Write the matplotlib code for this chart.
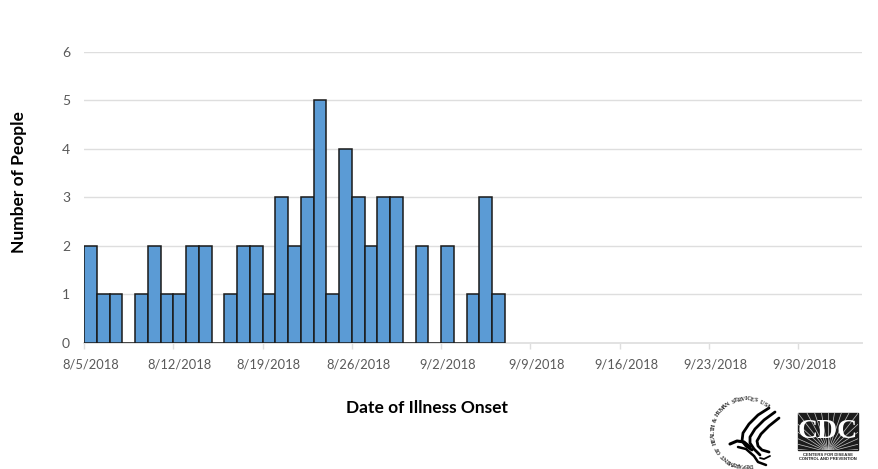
import numpy as np
import matplotlib
matplotlib.use("Agg")
import matplotlib.pyplot as plt
from matplotlib.patches import Rectangle

W, H = 879, 469

case_counts = [2, 1, 1, 0, 1, 2, 1, 1, 2, 2, 0, 1, 2, 2, 1, 3, 2, 3, 5, 1, 4, 3, 2, 3, 3,
               0, 2, 0, 2, 0, 1, 3, 1]
n_days = 61
tick_labels = ["8/5/2018", "8/12/2018", "8/19/2018", "8/26/2018", "9/2/2018",
               "9/9/2018", "9/16/2018", "9/23/2018", "9/30/2018"]
y_ticks = [0, 1, 2, 3, 4, 5, 6]

plt.rcParams["font.family"] = ["Lato", "DejaVu Sans"]

fig = plt.figure(figsize=(W / 100, H / 100), dpi=100)
ax = fig.add_axes([84 / W, 1 - 343 / H, (862 - 84) / W, (343 - 51.5) / H])

ax.bar(np.arange(len(case_counts)), case_counts, width=1.0, color="#5b9bd5",
       edgecolor="#1a1a1a", linewidth=1.1, zorder=3)

ax.set_xlim(-0.5, n_days - 0.5)
ax.set_ylim(0, 6)
ax.set_yticks(y_ticks)
ax.grid(axis="y", color="#dedede", linewidth=1, zorder=0)
ax.set_axisbelow(True)

# ticks sit on the bar edges, labels in the middle of the day
ax.set_xticks(np.arange(len(tick_labels)) * 7 - 0.5)
ax.set_xticklabels([])
ax.set_xticks(np.arange(len(tick_labels)) * 7 + 0.0, minor=True)
ax.set_xticklabels(tick_labels, minor=True)
ax.tick_params(axis="x", which="major", length=4, color="#dedede", width=1)
ax.tick_params(axis="x", which="minor", length=0, pad=11, labelsize=9.3, labelcolor="#595959")
ax.tick_params(axis="y", length=0, pad=10, labelsize=10, labelcolor="#595959")

for side in ["top", "right", "left"]:
    ax.spines[side].set_visible(False)
ax.spines["bottom"].set_color("#e2e2e2")
ax.spines["bottom"].set_linewidth(1.4)

fig.text(427 / W, 1 - 408 / H, "Date of Illness Onset", ha="center", va="center",
         fontsize=12.5, fontweight="bold", color="black")
fig.text(19 / W, 1 - 182 / H, "Number of People", ha="center", va="center", rotation=90,
         fontsize=12.5, fontweight="bold", color="black")

# logos, in pixel coordinates
logo = fig.add_axes([0, 0, 1, 1], facecolor="none")
logo.set_xlim(0, W)
logo.set_ylim(H, 0)
logo.axis("off")

# CDC block
box = Rectangle((798, 413), 60, 37, color="#1c1c1c")
logo.add_patch(box)
for a in np.linspace(-175, -5, 19):
    r = np.radians(a)
    ray, = logo.plot([828, 828 + 60 * np.cos(r)], [452, 452 + 60 * np.sin(r)],
                     color="#c8c8c8", lw=0.5)
    ray.set_clip_path(box)
logo.text(828, 432, "CDC", ha="center", va="center", color="white", fontsize=20,
          fontweight="bold", family="Liberation Serif")
logo.text(828, 454.5, "CENTERS FOR DISEASE", ha="center", va="center", fontsize=3.1,
          fontweight="bold", color="#222222", family="Liberation Sans")
logo.text(828, 459, "CONTROL AND PREVENTION", ha="center", va="center", fontsize=3.0,
          fontweight="bold", color="#222222", family="Liberation Sans")

# HHS seal, text round a circle
seal_text = "DEPARTMENT OF HEALTH & HUMAN SERVICES USA"
cx, cy, rad = 746, 432, 33
angles = np.linspace(278, 50, len(seal_text))
for ch, a in zip(seal_text, angles):
    r = np.radians(a)
    logo.text(cx + rad * np.cos(r), cy - rad * np.sin(r), ch, ha="center", va="center",
              fontsize=4.3, family="Liberation Serif", fontweight="bold", color="#222222",
              rotation=a - 90)

# eagle strokes
wings = [
    [(769, 408), (758, 415), (749, 424), (743, 433), (742, 441), (746, 446), (752, 450)],
    [(775, 412), (764, 420), (755, 429), (750, 437), (750, 443), (754, 449), (760, 455)],
    [(779, 418), (769, 426), (761, 434), (757, 441), (758, 446), (762, 450), (769, 452)],
]
for wing in wings:
    xs, ys = zip(*wing)
    logo.plot(xs, ys, color="black", lw=2.0, solid_capstyle="round", solid_joinstyle="round")
logo.plot([730, 737, 744, 750], [444, 441, 442, 447], color="black", lw=2.2, solid_capstyle="round")
logo.plot([738, 746, 754, 758, 766], [447, 449, 456, 462, 465], color="black", lw=1.8,
          solid_capstyle="round")
logo.plot([760, 764, 770], [458, 459, 456], color="black", lw=1.3, solid_capstyle="round")

fig.savefig("out.png", dpi=100)
